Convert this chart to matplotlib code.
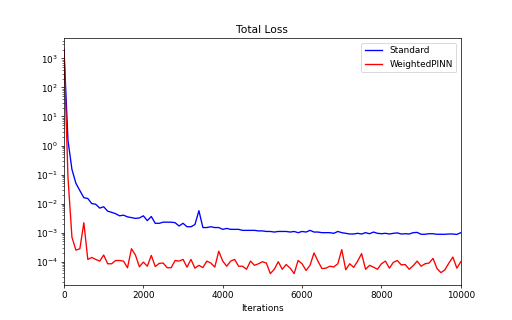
import numpy as np
import matplotlib
matplotlib.use("Agg")
import matplotlib.pyplot as plt

# loss values logged every 100 iterations
iterations = list(range(0, 10001, 100))

standard_loss = [
    2000, 1.5, 0.15, 0.05, 0.028, 0.016, 0.015, 0.01, 0.0095, 0.007,
    0.0078, 0.0055, 0.005, 0.0045, 0.0038, 0.004, 0.0035, 0.0033, 0.0031, 0.0032,
    0.0038, 0.0026, 0.0036, 0.0021, 0.0021, 0.0023, 0.0023, 0.0023, 0.0022, 0.0017,
    0.0021, 0.0016, 0.0016, 0.0019, 0.0057, 0.0015, 0.0015, 0.0016, 0.0015, 0.0015,
    0.0013, 0.0014, 0.0013, 0.0013, 0.0013, 0.0012, 0.0012, 0.0012, 0.0012, 0.00115,
    0.00115, 0.0011, 0.0011, 0.00105, 0.0011, 0.0011, 0.0011, 0.00105, 0.0011, 0.001,
    0.0011, 0.00105, 0.0012, 0.00105, 0.00105, 0.001, 0.001, 0.001, 0.00095, 0.0011,
    0.001, 0.00095, 0.0009, 0.0009, 0.00095, 0.0009, 0.001, 0.00092, 0.00105, 0.00095,
    0.00092, 0.00095, 0.0009, 0.00095, 0.00098, 0.0009, 0.00092, 0.0009, 0.001, 0.00102,
    0.00088, 0.00088, 0.00092, 0.00092, 0.00088, 0.00088, 0.00088, 0.0009, 0.0009, 0.00087,
    0.001,
]

weighted_loss = [
    2000, 0.08, 7e-4, 2.5e-4, 2.8e-4, 2.2e-3, 1.2e-4, 1.4e-4, 1.2e-4, 1.05e-4,
    1.7e-4, 8.5e-5, 8.5e-5, 1.1e-4, 1.1e-4, 1.05e-4, 6.2e-5, 2.8e-4, 1.7e-4, 6.7e-5,
    9.7e-5, 7e-5, 1.65e-4, 6.8e-5, 8.8e-5, 9e-5, 6.2e-5, 6.2e-5, 1.1e-4, 1.05e-4,
    1.2e-4, 6.5e-5, 1.2e-4, 6e-5, 7.5e-5, 6.3e-5, 1.05e-4, 9e-5, 6.5e-5, 2.3e-4,
    1.05e-4, 7e-5, 1.05e-4, 1.2e-4, 7e-5, 7e-5, 5.5e-5, 1.05e-4, 7.5e-5, 8.5e-5,
    1e-4, 9e-5, 3.9e-5, 5.5e-5, 1e-4, 5.5e-5, 8e-5, 6e-5, 3.9e-5, 1.1e-4,
    8.5e-5, 5e-5, 7.5e-5, 2e-4, 1.05e-4, 5.8e-5, 6e-5, 7e-5, 6.6e-5, 8.5e-5,
    2.6e-4, 5.3e-5, 8.5e-5, 6.4e-5, 1.05e-4, 1.9e-4, 5.5e-5, 7.5e-5, 6.5e-5, 5.5e-5,
    8.5e-5, 1.05e-4, 6e-5, 9.5e-5, 1.1e-4, 7.8e-5, 8e-5, 5.5e-5, 7.3e-5, 1.05e-4,
    7e-5, 8.5e-5, 9e-5, 1.3e-4, 5.8e-5, 4.2e-5, 5.3e-5, 9e-5, 1.45e-4, 6e-5,
    1e-4,
]

fig, ax = plt.subplots(figsize=(8, 5), dpi=64)
ax.plot(iterations, standard_loss, color="blue", label="Standard")
ax.plot(iterations, weighted_loss, color="red", label="WeightedPINN")
ax.set_yscale("log")
ax.set_xlim(0, 10000)
ax.set_title("Total Loss")
ax.set_xlabel("Iterations")
ax.legend(loc="upper right")

fig.savefig("out.png")
